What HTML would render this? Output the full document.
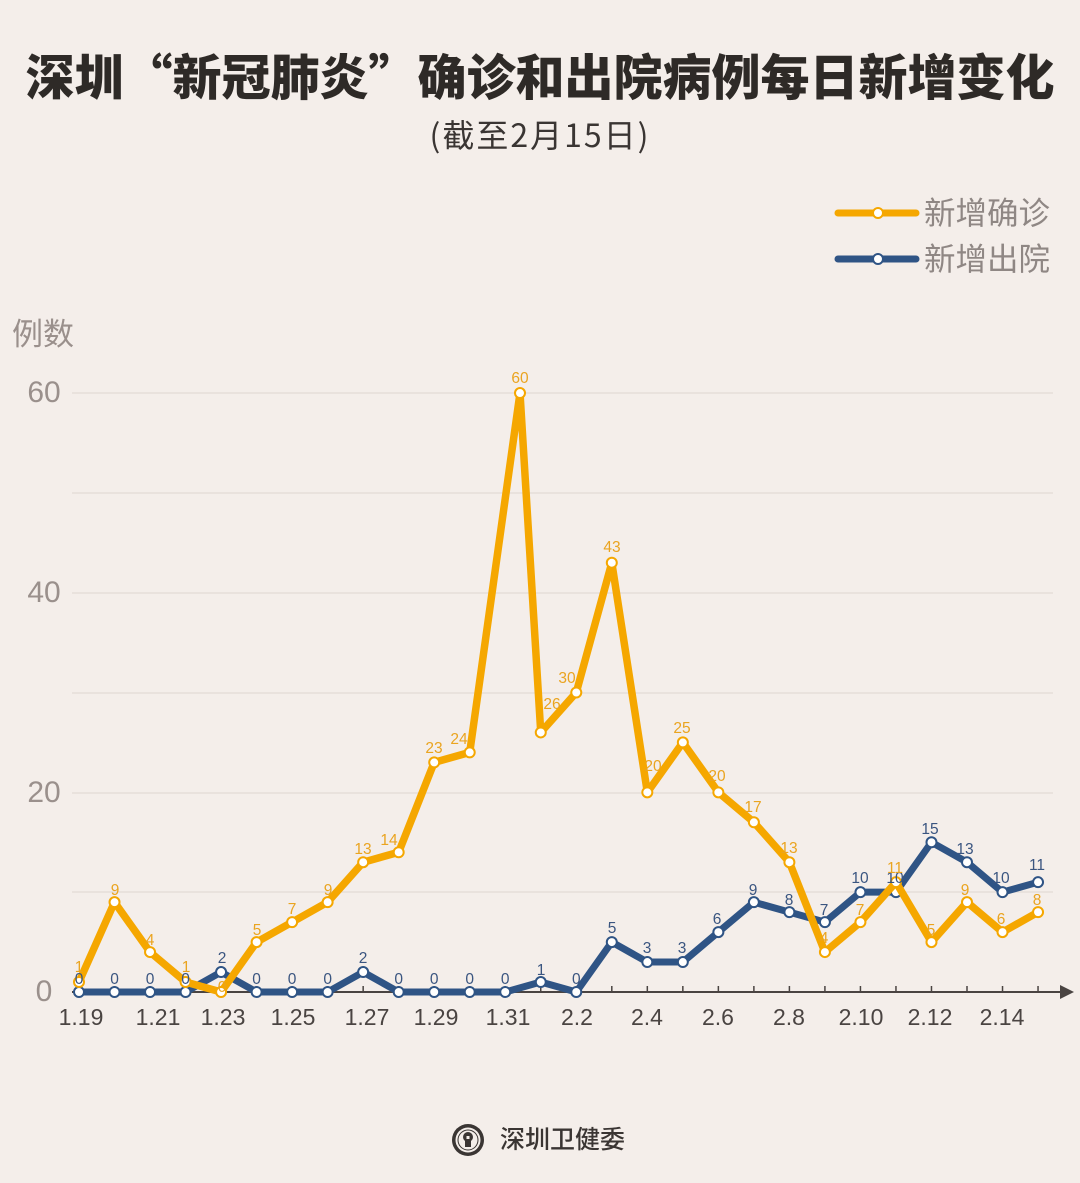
<!DOCTYPE html>
<html><head><meta charset="utf-8"><style>
html,body{margin:0;padding:0;background:#f4eeea;}
body{width:1080px;height:1183px;overflow:hidden;position:relative;font-family:"Liberation Sans","Noto Sans CJK SC",sans-serif;}
.t{position:absolute;left:0;width:1080px;text-align:center;font-family:"Noto Sans CJK SC",sans-serif;}
</style></head><body>
<div class="t" style="top:40px;font-size:49px;font-weight:900;color:#2e2a27;letter-spacing:0px;line-height:70px;">深圳“新冠肺炎”确诊和出院病例每日新增变化</div>
<div class="t" style="top:112px;font-size:32px;color:#3a3533;line-height:44px;letter-spacing:2px;">(截至2月15日)</div>
<svg width="1080" height="1183" style="position:absolute;left:0;top:0" xmlns="http://www.w3.org/2000/svg">
<g font-family="Noto Sans CJK SC, sans-serif" fill="#8f8784" font-size="31.5">
<line x1="838" y1="213" x2="916" y2="213" stroke="#f5a700" stroke-width="7" stroke-linecap="round"/>
<circle cx="878" cy="213" r="5" fill="#fff" stroke="#f5a700" stroke-width="2"/>
<text x="924" y="224">新增确诊</text>
<line x1="838" y1="259" x2="916" y2="259" stroke="#2f5485" stroke-width="7" stroke-linecap="round"/>
<circle cx="878" cy="259" r="5" fill="#fff" stroke="#2f5485" stroke-width="2"/>
<text x="924" y="270">新增出院</text>
<text x="12" y="345" fill="#9a908c" font-size="31">例数</text>
</g>
<g stroke="#e2dad5" stroke-width="1.2">
<line x1="72" y1="393" x2="1053" y2="393"/>
<line x1="72" y1="493" x2="1053" y2="493"/>
<line x1="72" y1="593" x2="1053" y2="593"/>
<line x1="72" y1="693" x2="1053" y2="693"/>
<line x1="72" y1="793" x2="1053" y2="793"/>
<line x1="72" y1="892" x2="1053" y2="892"/>
</g>
<g font-family="Liberation Sans, sans-serif" font-size="30" fill="#9a908c" text-anchor="middle">
<text x="44" y="402">60</text>
<text x="44" y="602">40</text>
<text x="44" y="802">20</text>
<text x="44" y="1001">0</text>
</g>
<line x1="72" y1="992" x2="1062" y2="992" stroke="#4a4442" stroke-width="2"/>
<polygon points="1060,985 1074,992 1060,999" fill="#4a4442"/>
<g id="ticks" stroke="#4a4442" stroke-width="1.5"></g>
<g font-family="Liberation Sans, sans-serif" font-size="23" fill="#4a4442" text-anchor="middle">
<text x="81" y="1025">1.19</text>
<text x="158" y="1025">1.21</text>
<text x="223" y="1025">1.23</text>
<text x="293" y="1025">1.25</text>
<text x="367" y="1025">1.27</text>
<text x="436" y="1025">1.29</text>
<text x="508" y="1025">1.31</text>
<text x="577" y="1025">2.2</text>
<text x="647" y="1025">2.4</text>
<text x="718" y="1025">2.6</text>
<text x="789" y="1025">2.8</text>
<text x="861" y="1025">2.10</text>
<text x="930" y="1025">2.12</text>
<text x="1002" y="1025">2.14</text>
</g>
<g id="blue"></g>
<g id="orange"></g>
<g id="labels" font-family="Liberation Sans, sans-serif" font-size="15.5" text-anchor="middle"></g>
<g transform="translate(468,1140)">
<circle r="16" fill="#3a3533"/>
<circle r="12.5" fill="#f4eeea"/>
<circle r="10" fill="none" stroke="#3a3533" stroke-width="1"/>
<circle cy="-3" r="5" fill="#3a3533"/>
<rect x="-3" y="-2" width="6" height="9" fill="#3a3533"/>
<rect x="-1.5" y="-4" width="3" height="3" fill="#f4eeea"/>
</g>
<text x="500" y="1148" font-family="Noto Sans CJK SC, sans-serif" font-size="25" font-weight="500" fill="#3a3533">深圳卫健委</text>
</svg>
<script>
var ns="http://www.w3.org/2000/svg";
function X(i){return 79+35.52*i;}
function Y(v){return 992-v*9.983;}
var conf=[1,9,4,1,0,5,7,9,13,14,23,24,60,26,30,43,20,25,20,17,13,4,7,11,5,9,6,8];
var confX=[];
for(var i=0;i<28;i++){confX.push(i==12?520:X(i));}
var dis=[0,0,0,0,2,0,0,0,2,0,0,0,0,1,0,5,3,3,6,9,8,7,10,10,15,13,10,11];
var disX=[];for(var i=0;i<28;i++)disX.push(X(i));
function el(t,a,p){var e=document.createElementNS(ns,t);for(var k in a)e.setAttribute(k,a[k]);p.appendChild(e);return e;}
var tk=document.getElementById('ticks');
for(var i=0;i<28;i++)el('line',{x1:X(i),y1:986,x2:X(i),y2:992},tk);
function series(g,xs,vs,col,w){
 var pts=xs.map(function(x,i){return x+","+Y(vs[i]);}).join(" ");
 el('polyline',{points:pts,fill:'none',stroke:col,'stroke-width':w,'stroke-linejoin':'round','stroke-linecap':'round'},g);
 for(var i=0;i<xs.length;i++)el('circle',{cx:xs[i],cy:Y(vs[i]),r:5,fill:'#fff',stroke:col,'stroke-width':2},g);
}
series(document.getElementById('blue'),disX,dis,'#2f5485',7);
series(document.getElementById('orange'),confX,conf,'#f5a700',7.5);
var L=document.getElementById('labels');
var ol=[[79,967,"1"],[115,890,"9"],[150,940,"4"],[186,967,"1"],[222,987,"0"],[257,930,"5"],[292,909,"7"],[328,890,"9"],[363,849,"13"],[389,840,"14"],[434,748,"23"],[459,739,"24"],[520,378,"60"],[552,704,"26"],[567,678,"30"],[612,547,"43"],[653,766,"20"],[682,728,"25"],[717,776,"20"],[753,807,"17"],[789,848,"13"],[824,938,"4"],[860,910,"7"],[895,868,"11"],[931,930,"5"],[965,890,"9"],[1001,919,"6"],[1037,900,"8"]];
var bl=[];
var bz=[0,1,2,3,5,6,7,9,10,11,12,14];
bz.forEach(function(i){bl.push([X(i),979,"0"]);});
bl=bl.concat([[222,958,"2"],[363,958,"2"],[541,970,"1"],[612,928,"5"],[647,948,"3"],[682,948,"3"],[717,919,"6"],[753,890,"9"],[789,900,"8"],[824,910,"7"],[860,878,"10"],[895,878,"10"],[930,829,"15"],[965,849,"13"],[1001,878,"10"],[1037,865,"11"]]);
bl.forEach(function(a){var t=el('text',{x:a[0],y:a[1]+5,fill:'#3a5580'},L);t.textContent=a[2];});
ol.forEach(function(a){var t=el('text',{x:a[0],y:a[1]+5,fill:'#eaa420'},L);t.textContent=a[2];});
</script>
</body></html>
